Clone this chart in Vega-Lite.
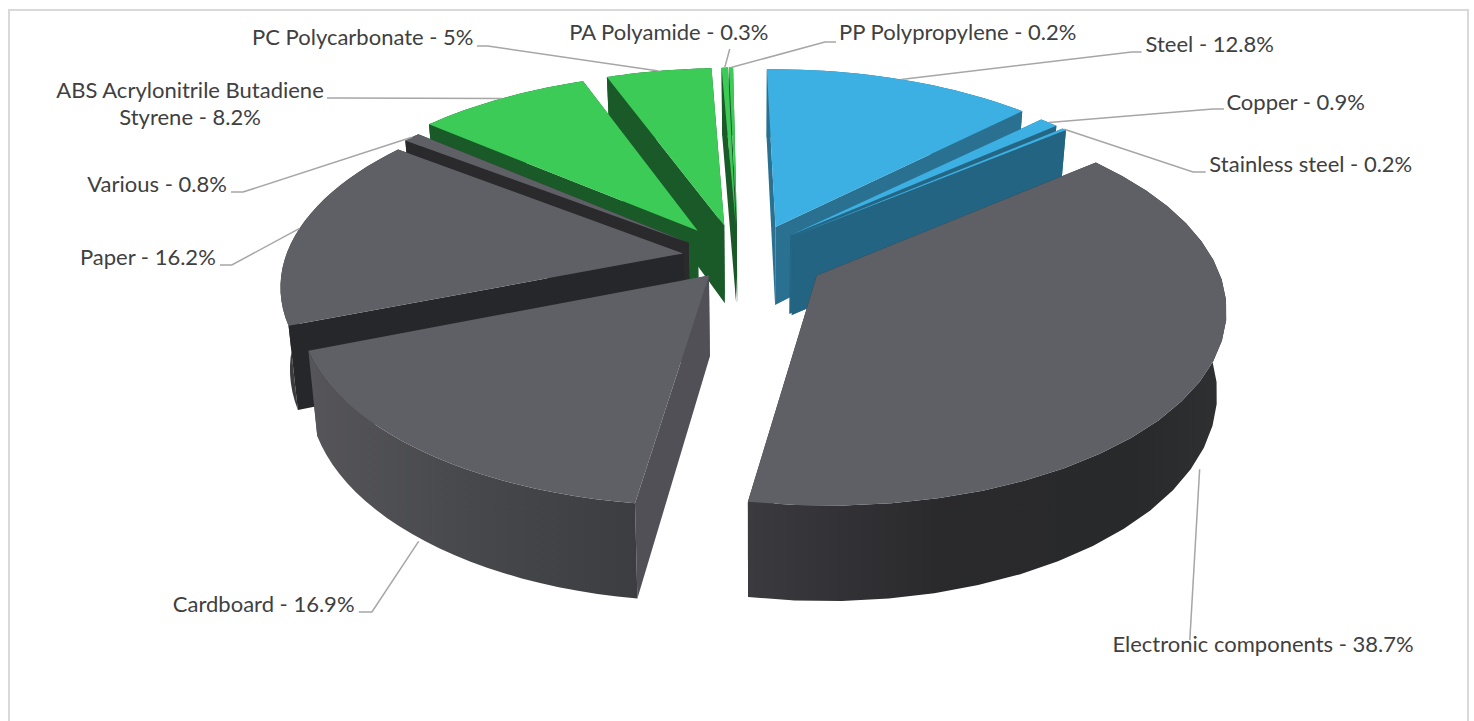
{
"$schema":"https://vega.github.io/schema/vega-lite/v6.json",
"width":1459,"height":712,
"padding":{"left":9,"top":10,"right":6,"bottom":0},
"autosize":{"type":"none"},
"background":"white",
"view":{"stroke":"#d9d9d9","strokeWidth":2,"fill":"white"},
"data":{"values":[
{"material":"Steel","share":12.8,"family":"Metals"},
{"material":"Copper","share":0.9,"family":"Metals"},
{"material":"Stainless steel","share":0.2,"family":"Metals"},
{"material":"Electronic components","share":38.7,"family":"Other"},
{"material":"Cardboard","share":16.9,"family":"Other"},
{"material":"Paper","share":16.2,"family":"Other"},
{"material":"Various","share":0.8,"family":"Other"},
{"material":"ABS Acrylonitrile Butadiene Styrene","share":8.2,"family":"Plastics"},
{"material":"PC Polycarbonate","share":5,"family":"Plastics"},
{"material":"PA Polyamide","share":0.3,"family":"Plastics"},
{"material":"PP Polypropylene","share":0.2,"family":"Plastics"}
]},
"transform":[
{"joinaggregate":[{"op":"sum","field":"share","as":"total"}]},
{"window":[{"op":"row_number","as":"n"}]},
{"window":[{"op":"sum","field":"share","as":"cum"}],"sort":[{"field":"n","order":"ascending"}]},
{"calculate":"datum.n==2?0.015:((datum.n==3||datum.n==4)?0.03:0)","as":"rot"},
{"calculate":"2*PI*(datum.cum-datum.share)/datum.total-0.0175+datum.rot","as":"t0"},
{"calculate":"2*PI*datum.cum/datum.total-0.0175+datum.rot","as":"t1"},
{"calculate":"(datum.t0+datum.t1)/2","as":"m"},
{"calculate":"0.18*sin(datum.m)-(datum.family=='Plastics'?0.04:0)-(datum.n==7?0.025:0)-(datum.n==1?0.012:0)-((datum.n==2||datum.n==3)?0.04:0)","as":"ex"},
{"calculate":"-0.18*cos(datum.m)-(datum.n==5?0.05:0)+(datum.n==7?0.03:0)","as":"ey"}
],
"encoding":{
"x":{"field":"X","type":"quantitative","axis":null,"scale":{"domain":[-1.87186,1.79397],"nice":false,"zero":false}},
"y":{"field":"Y","type":"quantitative","axis":null,"scale":{"domain":[-1.30526,2.44211],"reverse":true,"nice":false,"zero":false}}
},
"resolve":{"scale":{"fill":"independent"}},
"layer":[
{"transform":[
{"filter":"datum.material!='Electronic components'&&datum.material!='Cardboard'"},
{"calculate":"[0,1,2,3,4,5,6,7,8,9,10,11,12,13,14,15,16,17,18,19,20,21,22,23,24,25,26,27,28,29,30,31,32,33,34,35,36,37,38,39,40,41,42,43,44,45,46,47,48,49]","as":"k"},
{"flatten":["k"]},
{"calculate":"datum.t0+(datum.t1-datum.t0)*(datum.k<=24?datum.k:49-datum.k)/24","as":"t"},
{"calculate":"datum.ex+sin(datum.t)","as":"u"},
{"calculate":"datum.ey-cos(datum.t)","as":"v"},
{"calculate":"1/(1-0.15*datum.v)","as":"s"},
{"calculate":"datum.u*datum.s*(datum.k>24?0.98:1)","as":"X"},
{"calculate":"datum.v*datum.s+(datum.k>24?0.42*datum.s:0)","as":"Y"}],
"mark":{"type":"line","interpolate":"linear-closed","strokeWidth":0,"clip":false},
"encoding":{"order":{"field":"k","type":"quantitative"},
"fill":{"field":"family","type":"nominal","legend":null,"scale":{"domain":["Metals","Other","Plastics"],"range":["#2a7090","#3b3b3f","#1a5a2a"]}},
"detail":{"field":"material"}}},
{"transform":[
{"filter":"datum.family=='Plastics'"},
{"calculate":"[0,1]","as":"edge"},
{"flatten":["edge"]},
{"calculate":"[0,1,2,3]","as":"k"},
{"flatten":["k"]},
{"calculate":"datum.edge==0?datum.t0:datum.t1","as":"t"},
{"calculate":"datum.ex+((datum.k==1||datum.k==2)?sin(datum.t):0)","as":"u"},
{"calculate":"datum.ey-((datum.k==1||datum.k==2)?cos(datum.t):0)","as":"v"},
{"calculate":"1/(1-0.15*datum.v)","as":"s"},
{"calculate":"datum.u*datum.s*(datum.k>=2?0.98:1)","as":"X"},
{"calculate":"datum.v*datum.s+(datum.k>=2?0.42*datum.s:0)","as":"Y"}],
"mark":{"type":"line","interpolate":"linear-closed","strokeWidth":0,"fill":"#1a5a28"},
"encoding":{"order":{"field":"k","type":"quantitative"},"detail":[{"field":"material"},{"field":"edge"}]}},
{"transform":[
{"filter":"datum.material=='Various'"},
{"calculate":"[0,1]","as":"edge"},
{"flatten":["edge"]},
{"calculate":"[0,1,2,3]","as":"k"},
{"flatten":["k"]},
{"calculate":"datum.edge==0?datum.t0:datum.t1","as":"t"},
{"calculate":"datum.ex+((datum.k==1||datum.k==2)?sin(datum.t):0)","as":"u"},
{"calculate":"datum.ey-((datum.k==1||datum.k==2)?cos(datum.t):0)","as":"v"},
{"calculate":"1/(1-0.15*datum.v)","as":"s"},
{"calculate":"datum.u*datum.s*(datum.k>=2?0.98:1)","as":"X"},
{"calculate":"datum.v*datum.s+(datum.k>=2?0.42*datum.s:0)","as":"Y"}],
"mark":{"type":"line","interpolate":"linear-closed","strokeWidth":0,"fill":"#2a2a2d"},
"encoding":{"order":{"field":"k","type":"quantitative"},"detail":{"field":"edge"}}},
{"transform":[
{"filter":"datum.family!='Plastics'&&datum.material!='Various'"},
{"calculate":"[0,1]","as":"edge"},
{"flatten":["edge"]},
{"calculate":"[0,1,2,3]","as":"k"},
{"flatten":["k"]},
{"calculate":"datum.edge==0?datum.t0:datum.t1","as":"t"},
{"calculate":"datum.ex+((datum.k==1||datum.k==2)?sin(datum.t):0)","as":"u"},
{"calculate":"datum.ey-((datum.k==1||datum.k==2)?cos(datum.t):0)","as":"v"},
{"calculate":"1/(1-0.15*datum.v)","as":"s"},
{"calculate":"datum.u*datum.s*(datum.k>=2?0.98:1)","as":"X"},
{"calculate":"datum.v*datum.s+(datum.k>=2?0.42*datum.s:0)","as":"Y"}],
"mark":{"type":"line","interpolate":"linear-closed","strokeWidth":0},
"encoding":{"order":{"field":"k","type":"quantitative"},
"fill":{"field":"material","type":"nominal","legend":null,"scale":{
"domain":["Steel","Copper","Stainless steel","Electronic components","Cardboard","Paper"],
"range":["#2a7090","#246684","#226482","#2a2a2d","#505056","#26272a"]}},
"detail":{"field":"edge"}}},
{"transform":[
{"filter":"datum.material=='Electronic components'"},
{"calculate":"[0,1,2,3,4,5,6,7,8,9,10,11,12,13,14,15,16,17,18,19,20,21,22,23,24,25,26,27,28,29,30,31,32,33,34,35,36,37,38,39,40,41,42,43,44,45,46,47,48,49]","as":"k"},
{"flatten":["k"]},
{"calculate":"datum.t0+(datum.t1-datum.t0)*(datum.k<=24?datum.k:49-datum.k)/24","as":"t"},
{"calculate":"datum.ex+sin(datum.t)","as":"u"},
{"calculate":"datum.ey-cos(datum.t)","as":"v"},
{"calculate":"1/(1-0.15*datum.v)","as":"s"},
{"calculate":"datum.u*datum.s*(datum.k>24?0.98:1)","as":"X"},
{"calculate":"datum.v*datum.s+(datum.k>24?0.42*datum.s:0)","as":"Y"}],
"mark":{"type":"line","interpolate":"linear-closed","strokeWidth":0,
"fill":{"gradient":"linear","x1":0,"y1":0,"x2":1,"y2":0,"stops":[{"offset":0,"color":"#3a3a3f"},{"offset":0.4,"color":"#2a2a2d"},{"offset":0.8,"color":"#28292b"},{"offset":1,"color":"#2f3032"}]}},
"encoding":{"order":{"field":"k","type":"quantitative"}}},
{"transform":[
{"filter":"datum.material=='Cardboard'"},
{"calculate":"[0,1,2,3,4,5,6,7,8,9,10,11,12,13,14,15,16,17,18,19,20,21,22,23,24,25,26,27,28,29,30,31,32,33,34,35,36,37,38,39,40,41,42,43,44,45,46,47,48,49]","as":"k"},
{"flatten":["k"]},
{"calculate":"datum.t0+(datum.t1-datum.t0)*(datum.k<=24?datum.k:49-datum.k)/24","as":"t"},
{"calculate":"datum.ex+sin(datum.t)","as":"u"},
{"calculate":"datum.ey-cos(datum.t)","as":"v"},
{"calculate":"1/(1-0.15*datum.v)","as":"s"},
{"calculate":"datum.u*datum.s*(datum.k>24?0.98:1)","as":"X"},
{"calculate":"datum.v*datum.s+(datum.k>24?0.42*datum.s:0)","as":"Y"}],
"mark":{"type":"line","interpolate":"linear-closed","strokeWidth":0,
"fill":{"gradient":"linear","x1":0,"y1":0,"x2":1,"y2":0,"stops":[{"offset":0,"color":"#55555a"},{"offset":0.5,"color":"#47484c"},{"offset":1,"color":"#3c3d41"}]}},
"encoding":{"order":{"field":"k","type":"quantitative"}}},
{"transform":[
{"calculate":"[-1,0,1,2,3,4,5,6,7,8,9,10,11,12,13,14,15,16,17,18,19,20,21,22,23,24]","as":"k"},
{"flatten":["k"]},
{"calculate":"datum.t0+(datum.t1-datum.t0)*datum.k/24","as":"t"},
{"calculate":"datum.ex+(datum.k<0?0:sin(datum.t))","as":"u"},
{"calculate":"datum.ey-(datum.k<0?0:cos(datum.t))","as":"v"},
{"calculate":"1/(1-0.15*datum.v)","as":"s"},
{"calculate":"datum.u*datum.s","as":"X"},
{"calculate":"datum.v*datum.s","as":"Y"}],
"mark":{"type":"line","interpolate":"linear-closed","strokeWidth":0},
"encoding":{"order":{"field":"k","type":"quantitative"},
"fill":{"field":"family","type":"nominal","legend":null,"scale":{"domain":["Metals","Other","Plastics"],"range":["#3cafe3","#5f6066","#3ccb57"]}},
"detail":{"field":"material"}}},
{"transform":[
{"calculate":"[0,1,2]","as":"k"},
{"flatten":["k"]},
{"calculate":"datum.ex+sin(datum.m)","as":"u"},
{"calculate":"datum.ey-cos(datum.m)","as":"v"},
{"calculate":"1/(1-0.15*datum.v)","as":"s"},
{"calculate":"datum.k==0?datum.u*datum.s:(datum.k==1?[0.949,1.153,1.103,1.095,-0.960,-1.312,-1.284,-1.041,-0.669,-0.061,0.178]:[0.974,1.181,1.135,1.095,-0.993,-1.342,-1.314,-1.073,-0.696,-0.061,0.206])[datum.n-1]","as":"X"},
{"calculate":"datum.k==0?datum.v*datum.s+(cos(datum.m)<0?0.42*datum.s:0):[-1.084,-0.784,-0.453,2.011,1.863,0.037,-0.347,-0.842,-1.116,-1.1,-1.137][datum.n-1]","as":"Y"}],
"mark":{"type":"line","stroke":"#a6a6a6","strokeWidth":1.5},
"encoding":{"order":{"field":"k","type":"quantitative"},"detail":{"field":"material"}}},
{"transform":[
{"calculate":"[1.145,1.361,1.399,1.279,-1.232,-1.523,-1.500,-1.417,-0.983,-0.214,0.512][datum.n-1]","as":"X"},
{"calculate":"[-1.121,-0.816,-0.489,2.037,1.826,0,-0.384,-0.879,-1.158,-1.184,-1.184][datum.n-1]","as":"Y"},
{"calculate":"replace(datum.material,'Butadiene Styrene','Butadiene\\nStyrene')+' - '+datum.share+'%'","as":"label"}],
"mark":{"type":"text","font":"Lato","fontSize":22,"fill":"#404040","lineBreak":"\n","lineHeight":27,"align":"center","baseline":"middle"},
"encoding":{"text":{"field":"label"}}}
]
}
